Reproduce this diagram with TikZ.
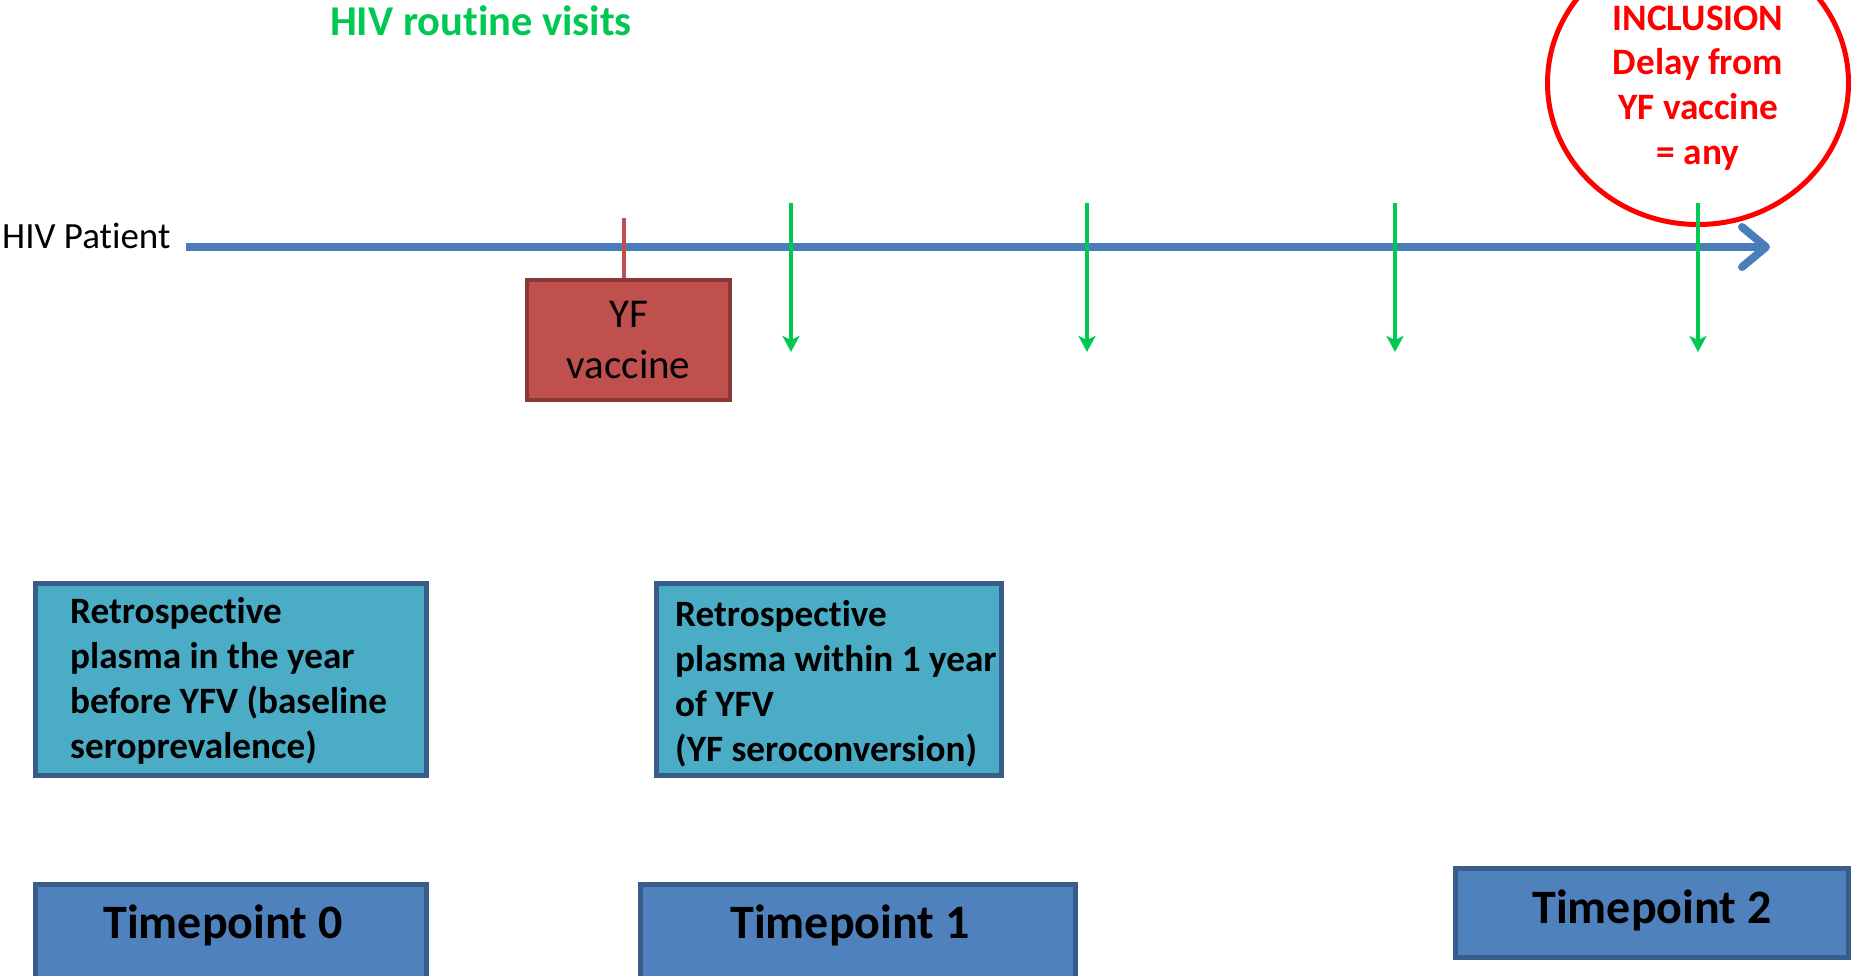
\documentclass[tikz,border=0pt]{standalone}
\usepackage{fontspec}
\setmainfont{Carlito}[Ligatures=NoCommon]
\usetikzlibrary{arrows.meta,shapes.geometric}
\definecolor{tlblue}{RGB}{74,126,187}
\definecolor{vgreen}{RGB}{0,200,83}
\definecolor{yfred}{RGB}{192,80,77}
\definecolor{yfborder}{RGB}{140,56,54}
\definecolor{retrofill}{RGB}{75,172,198}
\definecolor{tpfill}{RGB}{79,129,189}
\definecolor{boxborder}{RGB}{56,93,138}
\begin{document}
\begin{tikzpicture}[x=1pt,y=-1pt,
  visit/.style={draw=vgreen, line width=4.5pt, -{Stealth[length=16pt,width=17pt,inset=4pt,fill=vgreen]}},
  retrobox/.style={draw=boxborder, fill=retrofill, line width=5pt, inner sep=0pt, minimum height=192pt},
  tpbox/.style={draw=boxborder, fill=tpfill, line width=5pt, inner sep=0pt},
  retrotext/.style={anchor=west, align=left, inner sep=0pt, font=\bfseries\fontsize{37.2}{45}\selectfont},
  tptext/.style={inner sep=0pt, font=\bfseries\fontsize{48}{56}\selectfont}
]
\useasboundingbox (0,0) rectangle (1854,975);
\clip (0,0) rectangle (1854,975);

% titles
\node[text=vgreen, font=\bfseries\fontsize{42.5}{50}\selectfont, inner sep=0pt] (routine) at (481,21) {HIV routine visits};
\node[anchor=west, inner sep=0pt, font=\fontsize{37}{44}\selectfont] (patient) at (2,236) {HIV Patient};

% timeline
\coordinate (tlstart) at (186,247);
\coordinate (tlend) at (1770,247);
\draw[tlblue, line width=8pt, -{Straight Barb[length=24pt,width=40pt,round]}] (tlstart) -- (tlend);

% YF vaccine
\node[draw=yfborder, fill=yfred, line width=4pt, minimum width=203pt, minimum height=120pt, inner sep=0pt,
      align=center, font=\fontsize{41}{51}\selectfont] (yf) at (628.5,340) {YF\\vaccine};
\coordinate (tick) at (624,218);
\draw[yfred, line width=4pt] (tick) -- (tick |- yf.north);

% inclusion ellipse
\node[ellipse, draw=red, line width=5pt, minimum width=301pt, minimum height=283pt, inner sep=0pt] (incl) at (1698,83) {};
\node[text=red, align=center, inner sep=0pt, font=\bfseries\fontsize{37.3}{44.7}\selectfont] (incltext) at (1698,88)
      {INCLUSION\\Delay from\\YF vaccine\\= any};

% routine visits arrows
\foreach \i/\x in {1/791,2/1087,3/1395,4/1698}{
  \coordinate (v\i s) at (\x,203);
  \coordinate (v\i e) at (\x,352);
  \draw[visit] (v\i s) -- (v\i e);
}

% retrospective boxes
\node[retrobox, minimum width=391pt] (retroA) at (231,679.5) {};
\node[retrotext] (retroAtext) at (70,680.5) {Retrospective\\plasma in the year\\before YFV (baseline\\seroprevalence)};
\node[retrobox, minimum width=345pt] (retroB) at (829,679.5) {};
\node[retrotext] (retroBtext) at (675,683.5) {Retrospective\\plasma within 1 year\\of YFV\\(YF seroconversion)};

% timepoints
\node[tpbox, minimum width=391pt, minimum height=113pt] (tp0) at (231,941) {};
\node[tptext] (tp0text) at (223,925) {Timepoint 0};
\node[tpbox, minimum width=435pt, minimum height=113pt] (tp1) at (858,941) {};
\node[tptext] (tp1text) at (850,925) {Timepoint 1};
\node[tpbox, minimum width=393pt, minimum height=89pt] (tp2) at (1652,913) {};
\node[tptext] (tp2text) at (1652,910) {Timepoint 2};
\end{tikzpicture}
\end{document}
